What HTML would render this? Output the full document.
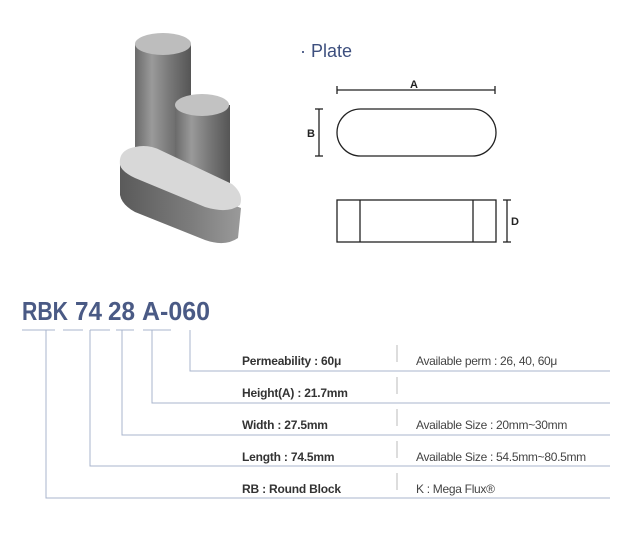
<!DOCTYPE html>
<html><head><style>
body{margin:0;width:636px;height:544px;background:#fff;position:relative;font-family:"Liberation Sans",sans-serif;overflow:hidden}
.a{position:absolute}
.lbl{position:absolute;left:242px;font-size:12px;font-weight:bold;color:#333;letter-spacing:-0.2px}
.rt{position:absolute;left:416px;font-size:12px;color:#444;letter-spacing:-0.3px}
</style></head><body>
<svg class="a" style="left:0;top:0" width="636" height="544">
<defs>
<linearGradient id="cy" x1="0" x2="1"><stop offset="0" stop-color="#6a6a6a"/><stop offset=".3" stop-color="#9a9a9a"/><stop offset=".6" stop-color="#7a7a7a"/><stop offset="1" stop-color="#555"/></linearGradient>
<linearGradient id="sd" x1="0" x2="1"><stop offset="0" stop-color="#5a5a5a"/><stop offset=".6" stop-color="#7d7d7d"/><stop offset="1" stop-color="#9a9a9a"/></linearGradient>
</defs>
<rect x="135" y="44" width="56" height="130" fill="url(#cy)"/>
<ellipse cx="163" cy="44" rx="28" ry="11" fill="#bdbdbd"/>
<rect x="175" y="105" width="55" height="80" fill="url(#cy)"/>
<ellipse cx="202" cy="105" rx="27" ry="11" fill="#c2c2c2"/>
<path d="M120 162 L120 195 Q122 205 135 212 L205 240 Q225 247 238 238 L241 208 Z" fill="url(#sd)"/>
<path d="M135 147 Q118 150 120 165 Q122 172 135 178 L205 207 Q228 214 240 205 Q244 194 232 184 L160 150 Q148 144 135 147 Z" fill="#d8d8d8"/>
<g stroke="#222" stroke-width="1.3" fill="none">
<line x1="337" y1="90" x2="495" y2="90"/><line x1="337" y1="86" x2="337" y2="94"/><line x1="495" y1="86" x2="495" y2="94"/>
<rect x="337" y="109" width="159" height="47" rx="23.5"/>
<line x1="319" y1="109" x2="319" y2="156"/><line x1="315" y1="109" x2="323" y2="109"/><line x1="315" y1="156" x2="323" y2="156"/>
<rect x="337" y="200" width="159" height="42"/>
<line x1="360" y1="200" x2="360" y2="242"/><line x1="473" y1="200" x2="473" y2="242"/>
<line x1="507" y1="200" x2="507" y2="242"/><line x1="503" y1="200" x2="511" y2="200"/><line x1="503" y1="242" x2="511" y2="242"/>
</g>
<g font-family="Liberation Sans" font-size="11" font-weight="bold" fill="#222">
<text x="410" y="88">A</text><text x="307" y="137">B</text><text x="511" y="225">D</text>
</g>
<text x="300" y="57" font-family="Liberation Sans" font-size="18" fill="#3d4f7e">· Plate</text>
<g font-family="Liberation Sans" font-size="26" font-weight="bold" fill="#4a5a85">
<text x="22" y="320" textLength="46" lengthAdjust="spacingAndGlyphs">RBK</text>
<text x="75" y="320" textLength="27" lengthAdjust="spacingAndGlyphs">74</text>
<text x="108" y="320" textLength="27" lengthAdjust="spacingAndGlyphs">28</text>
<text x="142" y="320" textLength="68" lengthAdjust="spacingAndGlyphs">A-060</text>
</g>
<g stroke="#a9b4cc" stroke-width="1">
<line x1="22" y1="330" x2="55" y2="330"/><line x1="63" y1="330" x2="83" y2="330"/><line x1="90" y1="330" x2="110" y2="330"/><line x1="116" y1="330" x2="134" y2="330"/><line x1="143" y1="330" x2="171" y2="330"/>
<polyline fill="none" points="190,330 190,371 610,371"/>
<polyline fill="none" points="152,330 152,403 610,403"/>
<polyline fill="none" points="122,330 122,435 610,435"/>
<polyline fill="none" points="90,330 90,466 610,466"/>
<polyline fill="none" points="46,330 46,498 610,498"/>
<line x1="397" y1="345" x2="397" y2="362" stroke="#bbb"/>
<line x1="397" y1="377" x2="397" y2="394" stroke="#bbb"/>
<line x1="397" y1="409" x2="397" y2="426" stroke="#bbb"/>
<line x1="397" y1="441" x2="397" y2="458" stroke="#bbb"/>
<line x1="397" y1="473" x2="397" y2="490" stroke="#bbb"/>
</g>
</svg>
<div class="lbl" style="top:354px">Permeability : 60μ</div>
<div class="lbl" style="top:386px">Height(A) : 21.7mm</div>
<div class="lbl" style="top:418px">Width : 27.5mm</div>
<div class="lbl" style="top:450px">Length : 74.5mm</div>
<div class="lbl" style="top:482px">RB : Round Block</div>
<div class="rt" style="top:354px">Available perm : 26, 40, 60μ</div>
<div class="rt" style="top:418px">Available Size : 20mm~30mm</div>
<div class="rt" style="top:450px">Available Size : 54.5mm~80.5mm</div>
<div class="rt" style="top:482px">K : Mega Flux®</div>
</body></html>
